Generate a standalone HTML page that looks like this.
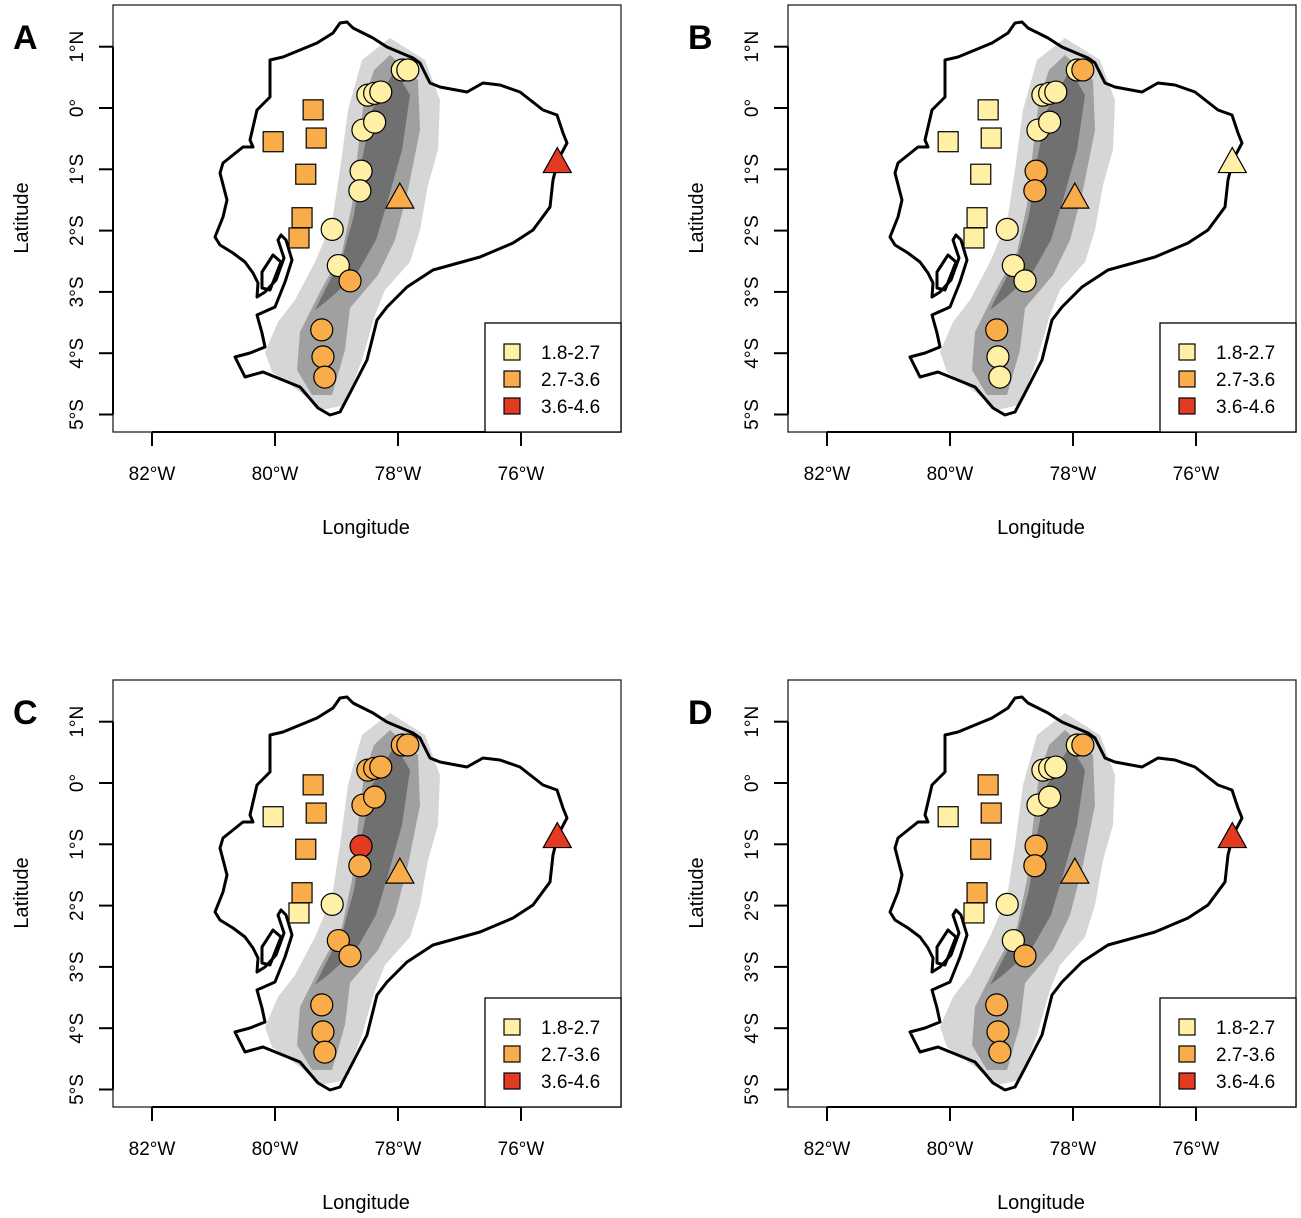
<!DOCTYPE html>
<html><head><meta charset="utf-8">
<style>
body{margin:0;background:#fff;}
svg{display:block;font-family:"Liberation Sans",Arial,sans-serif;}
</style></head>
<body>
<svg id="fig" width="1301" height="1218" viewBox="0 0 1301 1218" xmlns="http://www.w3.org/2000/svg"></svg>
<script>
// Site data (lon, lat) — circles, squares, triangles
const circleLon = [-77.93,-77.84,-78.49,-78.38,-78.28,-78.57,-78.38,-78.60,-78.62,-79.07,-78.97,-78.78,-79.24,-79.22,-79.19];
const circleLat = [0.62,0.62,0.21,0.24,0.26,-0.36,-0.23,-1.03,-1.35,-1.98,-2.57,-2.82,-3.62,-4.06,-4.39];
const squareLon = [-79.38,-80.03,-79.33,-79.50,-79.56,-79.61];
const squareLat = [-0.03,-0.55,-0.49,-1.08,-1.79,-2.12];
const triLon = [-77.97,-75.41];
const triLat = [-1.47,-0.89];
// class per panel: 0=1.8-2.7, 1=2.7-3.6, 2=3.6-4.6
const panelLetters = ["A","B","C","D"];
const circleClass = [
 [0,0,0,0,0,0,0,0,0,0,0,1,1,1,1],
 [0,1,0,0,0,0,0,1,1,0,0,0,1,0,0],
 [1,1,1,1,1,1,1,2,1,0,1,1,1,1,1],
 [0,1,0,0,0,0,0,1,1,0,0,1,1,1,1]];
const squareClass = [[1,1,1,1,1,1],[0,0,0,0,0,0],[1,0,1,1,1,0],[1,0,1,1,1,0]];
const triClass = [[1,2],[1,0],[1,2],[1,2]];
const legendLabels = ["1.8-2.7","2.7-3.6","3.6-4.6"];
const classColors = ["#fff0a6","#f8ad4a","#e53a22"];
const lonTicks = [-82,-80,-78,-76];
const lonTickLabels = ["82°W","80°W","78°W","76°W"];
const latTicks = [1,0,-1,-2,-3,-4,-5];
const latTickLabels = ["1°N","0°","1°S","2°S","3°S","4°S","5°S"];

const NS="http://www.w3.org/2000/svg";
const svg=document.getElementById('fig');
function mk(tag,attrs,parent){const e=document.createElementNS(NS,tag);for(const k in attrs)e.setAttribute(k,attrs[k]);parent.appendChild(e);return e;}
const xs = lon => 152 + (lon+82)*61.5;
const ys = lat => 108 - lat*61.3;

const outline="M347,22 L353,28 L373,38 L387,47 L413,58 L420,63 L430,83 L440,87 L467,92 L483,83 L500,85 L520,92 L543,110 L557,115 L563,133 L567,143 L558,160 L553,180 L550,207 L533,230 L513,243 L480,257 L433,270 L407,287 L387,307 L377,320 L367,360 L350,393 L340,412 L330,415 L318,408 L300,387 L263,372 L245,377 L240,367 L235,357 L250,353 L265,347 L262,333 L257,315 L275,307 L285,282 L292,260 L286,240 L281,235 L278,240 L284,258 L276,280 L265,292 L257,297 L258,283 L253,273 L245,262 L233,253 L220,245 L215,237 L223,217 L227,200 L220,173 L223,163 L243,147 L253,147 L250,140 L257,110 L270,97 L270,73 L270,60 L283,57 L300,50 L317,43 L333,33 L340,23 Z";
const island="M273,255 L281,262 L270,290 L262,288 L262,272 Z";
const elevLight="M390,38 L425,60 L440,100 L438,150 L428,185 L420,230 L410,262 L385,290 L375,315 L362,360 L345,405 L322,410 L300,392 L272,372 L265,352 L278,322 L295,300 L315,262 L332,222 L340,170 L348,110 L362,60 Z";
const elevMid="M390,55 L418,80 L420,130 L408,190 L395,240 L378,275 L350,308 L345,350 L332,395 L312,395 L297,370 L300,332 L320,292 L342,252 L352,205 L358,150 L364,100 L374,70 Z";
const elevDark="M395,70 L410,95 L402,150 L388,200 L376,240 L356,275 L328,300 L315,310 L325,290 L343,255 L354,215 L362,160 L372,110 Z";

for(let p=0;p<4;p++){
  const ox=(p%2)*675, oy=Math.floor(p/2)*675;
  const g=mk('g',{transform:`translate(${ox},${oy})`},svg);
  
  
  const box=mk('rect',{x:113,y:5,width:508,height:427,fill:'#fff',stroke:'#222','stroke-width':1.3},g);
  
  
  const e1=mk('path',{d:elevLight,fill:'#d6d6d6'},g);
  
  
  const e2=mk('path',{d:elevMid,fill:'#a0a0a0'},g);
  
  
  const e3=mk('path',{d:elevDark,fill:'#707070'},g);
  
  
  const ol=mk('path',{d:outline,fill:'none',stroke:'#000','stroke-width':3,'stroke-linejoin':'round'},g);
  
  
  const isl=mk('path',{d:island,fill:'none',stroke:'#000','stroke-width':3,'stroke-linejoin':'round'},g);
  
  
  // axes
  const xa=mk('line',{x1:xs(-82),x2:xs(-76),y1:432,y2:432,stroke:'#000','stroke-width':2},g);
  
  
  lonTicks.forEach((v,i)=>{
    mk('line',{x1:xs(v),x2:xs(v),y1:432,y2:446,stroke:'#000','stroke-width':2},g);
    const t=mk('text',{x:xs(v),y:480,'font-size':19,'text-anchor':'middle'},g);
    t.textContent=lonTickLabels[i];
    
    
  });
  const ya=mk('line',{x1:113,x2:113,y1:ys(1),y2:ys(-5),stroke:'#000','stroke-width':2},g);
  
  
  latTicks.forEach((v,i)=>{
    mk('line',{x1:99,x2:113,y1:ys(v),y2:ys(v),stroke:'#000','stroke-width':2},g);
    const t=mk('text',{x:0,y:0,'font-size':19,'text-anchor':'middle',transform:`translate(83,${ys(v)}) rotate(-90)`},g);
    t.textContent=latTickLabels[i];
    
    
  });
  const xl=mk('text',{x:366,y:534,'font-size':20,'text-anchor':'middle'},g);
  xl.textContent='Longitude';
  
  
  const yl=mk('text',{x:0,y:0,'font-size':20,'text-anchor':'middle',transform:'translate(28,218) rotate(-90)'},g);
  yl.textContent='Latitude';
  
  
  const pl=mk('text',{x:13,y:49,'font-size':34,'font-weight':'bold'},g);
  pl.textContent=panelLetters[p];
  
  
  // markers
  squareLon.forEach((lo,i)=>{
    const r=mk('rect',{x:xs(lo)-10,y:ys(squareLat[i])-10,width:20,height:20,fill:classColors[squareClass[p][i]],stroke:'#000','stroke-width':1.2},g);
    
    
  });
  circleLon.forEach((lo,i)=>{
    const c=mk('circle',{cx:xs(lo),cy:ys(circleLat[i]),r:11,fill:classColors[circleClass[p][i]],stroke:'#000','stroke-width':1.2},g);
    
    
  });
  triLon.forEach((lo,i)=>{
    const x=xs(lo), y=ys(triLat[i]);
    const t=mk('polygon',{points:`${x},${y-15} ${x+14},${y+10} ${x-14},${y+10}`,fill:classColors[triClass[p][i]],stroke:'#000','stroke-width':1.2},g);
    
    
  });
  // legend
  const lg=mk('g',{},g);
  
  
  mk('rect',{x:485,y:323,width:136,height:109,fill:'#fff',stroke:'#000','stroke-width':1.3},lg);
  legendLabels.forEach((lab,i)=>{
    const yy=352+i*27;
    const s=mk('rect',{x:504,y:yy-8,width:16,height:16,fill:classColors[i],stroke:'#000','stroke-width':1.2},lg);
    
    
    const t=mk('text',{x:541,y:yy+7,'font-size':19},lg);
    t.textContent=lab;
    
    
  });
}
</script>
</body></html>
